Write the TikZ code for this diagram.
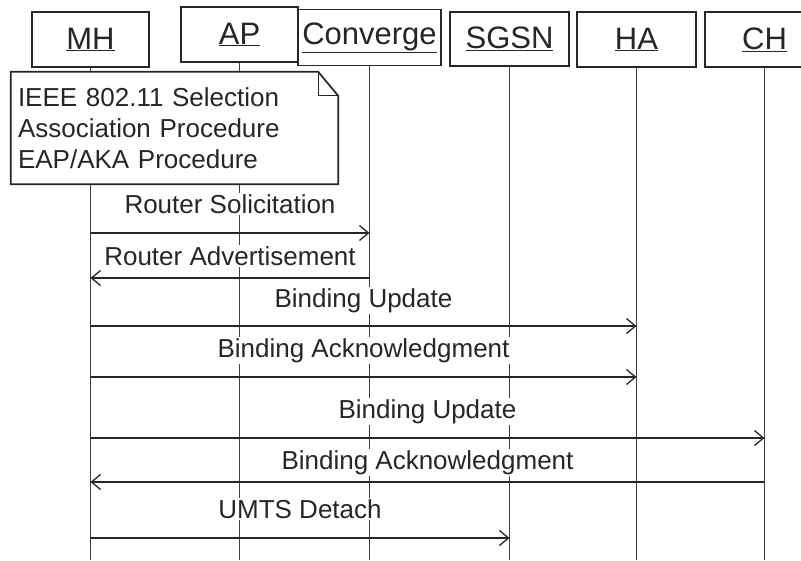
\documentclass[tikz,border=0pt]{standalone}
\usepackage{fontspec}
\setmainfont{Liberation Sans}
\usetikzlibrary{arrows.meta}
\definecolor{ink}{HTML}{262626}
\definecolor{lifegray}{HTML}{404040}
\tikzstyle{block} = [rectangle, minimum height=55pt, text centered, draw=ink, line width=1.7pt, fill=white, text=ink, font=\fontsize{31}{36}\selectfont]
\tikzstyle{arrow} = [line width=1.3pt, draw=ink, -{Straight Barb[length=9pt,width=15pt]}]
\pgfdeclarelayer{bg}
\pgfsetlayers{bg,main}
\tikzset{lifeline/.style={draw=lifegray, line width=1.5pt},msg/.style={fill=white, inner sep=1.5pt, text=ink, anchor=base, font=\fontsize{26}{32}\selectfont},note/.style={rectangle, minimum width=327pt, minimum height=112pt, text width=313pt, inner xsep=7pt, align=left, fill=white, text=ink, font=\fontsize{26}{31}\selectfont}}

\begin{document}
\begin{tikzpicture}[x=1pt, y=-1pt]
    \useasboundingbox (0,0) rectangle (801,560);

    \node [block, minimum width=117pt] (MH) at (90.5,39.5) {\underline{MH}};
    \node [block, minimum width=117pt] (AP) at (239.5,34.5) {\underline{AP}};
    \node [block, minimum width=143pt, minimum height=56pt] (CONV) at (369.5,37.5) {\underline{Converge}};
    \node [block, minimum width=119pt, minimum height=54pt] (SGSN) at (509.5,39) {\underline{SGSN}};
    \node [block, minimum width=119pt] (HA) at (636.5,39.5) {\underline{HA}};
    \node [block, minimum width=119pt] (CH) at (764.5,39.5) {\underline{CH}};

    \node [note] (note) at (174.5,128) {IEEE 802.11 Selection\\Association Procedure\\EAP/AKA Procedure};
    \draw [draw=ink, line width=1.7pt] (note.south west) -- (note.north west) -- ([xshift=-20pt]note.north east) -- ([yshift=-24pt]note.north east) -- (note.south east) -- cycle;
    \draw [draw=ink, line width=1.2pt] ([xshift=-20pt]note.north east) |- ([yshift=-24pt]note.north east);

    % message levels
    \coordinate (m1) at (0,233);
    \coordinate (m2) at (0,278);
    \coordinate (m3) at (0,326);
    \coordinate (m4) at (0,377);
    \coordinate (m5) at (0,438);
    \coordinate (m6) at (0,482);
    \coordinate (m7) at (0,538);
    \coordinate (bottom) at (0,560);

    \begin{pgfonlayer}{bg} % lifelines
    \draw[lifeline] (MH.south) -- (MH |- bottom);
    \draw[lifeline] (AP.south) -- (AP |- bottom);
    \draw[lifeline] (CONV.south) -- (CONV |- bottom);
    \draw[lifeline] (SGSN.south) -- (SGSN |- bottom);
    \draw[lifeline] (HA.south) -- (HA |- bottom);
    \draw[lifeline] (CH.south) -- (CH |- bottom);
    \end{pgfonlayer}

    \draw[arrow] (MH |- m1) -- node[msg, yshift=20pt] {Router Solicitation} (CONV |- m1);
    \draw[arrow] (CONV |- m2) -- node[msg, yshift=13pt] {Router Advertisement} (MH |- m2);
    \draw[arrow] (MH |- m3) -- node[msg, yshift=19pt] {Binding Update} (HA |- m3);
    \draw[arrow] (MH |- m4) -- node[msg, yshift=20pt] {Binding Acknowledgment} (HA |- m4);
    \draw[arrow] (MH |- m5) -- node[msg, yshift=20pt] {Binding Update} (CH |- m5);
    \draw[arrow] (CH |- m6) -- node[msg, yshift=13pt] {Binding Acknowledgment} (MH |- m6);
    \draw[arrow] (MH |- m7) -- node[msg, yshift=20pt] {UMTS Detach} (SGSN |- m7);
\end{tikzpicture}
\end{document}
